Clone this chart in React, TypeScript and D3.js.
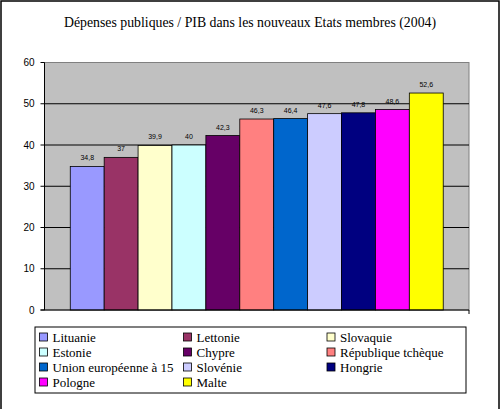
import React from "react";
import * as d3 from "d3";

const countries = [
  "Lituanie",
  "Lettonie",
  "Slovaquie",
  "Estonie",
  "Chypre",
  "République tchèque",
  "Union européenne à 15",
  "Slovénie",
  "Hongrie",
  "Pologne",
  "Malte",
];
const values = [34.8, 37, 39.9, 40, 42.3, 46.3, 46.4, 47.6, 47.8, 48.6, 52.6];
const labels = ["34,8", "37", "39,9", "40", "42,3", "46,3", "46,4", "47,6", "47,8", "48,6", "52,6"];
const colors = [
  "#9999FF",
  "#993366",
  "#FFFFCC",
  "#CCFFFF",
  "#660066",
  "#FF8080",
  "#0066CC",
  "#CCCCFF",
  "#000080",
  "#FF00FF",
  "#FFFF00",
];
const yTicks = [0, 10, 20, 30, 40, 50, 60];

const W = 500;
const H = 409;
const plot = { left: 44.5, right: 469, top: 62.5, bottom: 310 };

export default function App() {
  const y = d3.scaleLinear().domain([0, 60]).range([plot.bottom, plot.top]);
  const x = d3
    .scaleBand<string>()
    .domain(countries)
    .range([plot.left, plot.right])
    .paddingInner(0)
    .paddingOuter(0.76);

  const legend = { x: 35, y: 327, w: 431, h: 66 };
  const colX = [39.5, 183.5, 327];
  const rowY = [337.5, 352.5, 367.5, 382.5];

  return (
    <svg
      width={W}
      height={H}
      style={{ position: "fixed", top: 0, left: 0, background: "#fff" }}
      xmlns="http://www.w3.org/2000/svg"
    >
      <rect x={0} y={0} width={W} height={H} fill="#fff" />
      <rect x={1} y={1} width={W - 2} height={H + 10} fill="none" stroke="#000" strokeWidth={1.5} />
      <text
        x={250}
        y={27}
        textAnchor="middle"
        fontFamily="'Liberation Serif', 'Times New Roman', serif"
        fontSize={13.8}
        fill="#000"
      >
        Dépenses publiques / PIB dans les nouveaux Etats membres (2004)
      </text>

      {/* plot area */}
      <rect
        x={plot.left}
        y={plot.top}
        width={plot.right - plot.left}
        height={plot.bottom - plot.top}
        fill="#C0C0C0"
        stroke="#808080"
        strokeWidth={1}
      />
      {yTicks
        .filter((t) => t > 0 && t < 60)
        .map((t) => (
          <line
            key={t}
            x1={plot.left}
            x2={plot.right}
            y1={y(t)}
            y2={y(t)}
            stroke="#000"
            strokeWidth={1}
          />
        ))}

      {/* bars */}
      {countries.map((c, i) => (
        <g key={c}>
          <rect
            x={x(c)!}
            y={y(values[i])}
            width={x.bandwidth()}
            height={plot.bottom - y(values[i])}
            fill={colors[i]}
            stroke="#000"
            strokeWidth={0.8}
          />
          <text
            x={x(c)! + x.bandwidth() / 2}
            y={y(values[i]) - 6}
            textAnchor="middle"
            fontFamily="'Liberation Sans', Arial, sans-serif"
            fontSize={7}
            fill="#000"
          >
            {labels[i]}
          </text>
        </g>
      ))}

      {/* axes */}
      <line x1={plot.left} x2={plot.left} y1={plot.top} y2={plot.bottom} stroke="#000" />
      <line x1={plot.left - 4} x2={plot.right} y1={plot.bottom} y2={plot.bottom} stroke="#000" />
      <line x1={plot.right} x2={plot.right} y1={plot.bottom} y2={plot.bottom + 4} stroke="#000" />
      {yTicks.map((t) => (
        <g key={t}>
          <line x1={plot.left - 4} x2={plot.left} y1={y(t)} y2={y(t)} stroke="#000" />
          <text
            x={plot.left - 10}
            y={y(t) + 3.5}
            textAnchor="end"
            fontFamily="'Liberation Sans', Arial, sans-serif"
            fontSize={10}
            fill="#000"
          >
            {t}
          </text>
        </g>
      ))}

      {/* legend */}
      <rect
        x={legend.x}
        y={legend.y}
        width={legend.w}
        height={legend.h}
        fill="#fff"
        stroke="#000"
        strokeWidth={1}
      />
      {countries.map((c, i) => {
        const col = i % 3;
        const row = Math.floor(i / 3);
        const sx = colX[col];
        const sy = rowY[row];
        return (
          <g key={c}>
            <rect x={sx} y={sy - 4.5} width={8} height={8} fill={colors[i]} stroke="#000" strokeWidth={0.8} />
            <text
              x={sx + 13}
              y={sy + 4}
              fontFamily="'Liberation Serif', 'Times New Roman', serif"
              fontSize={13}
              fill="#000"
            >
              {c}
            </text>
          </g>
        );
      })}
    </svg>
  );
}
